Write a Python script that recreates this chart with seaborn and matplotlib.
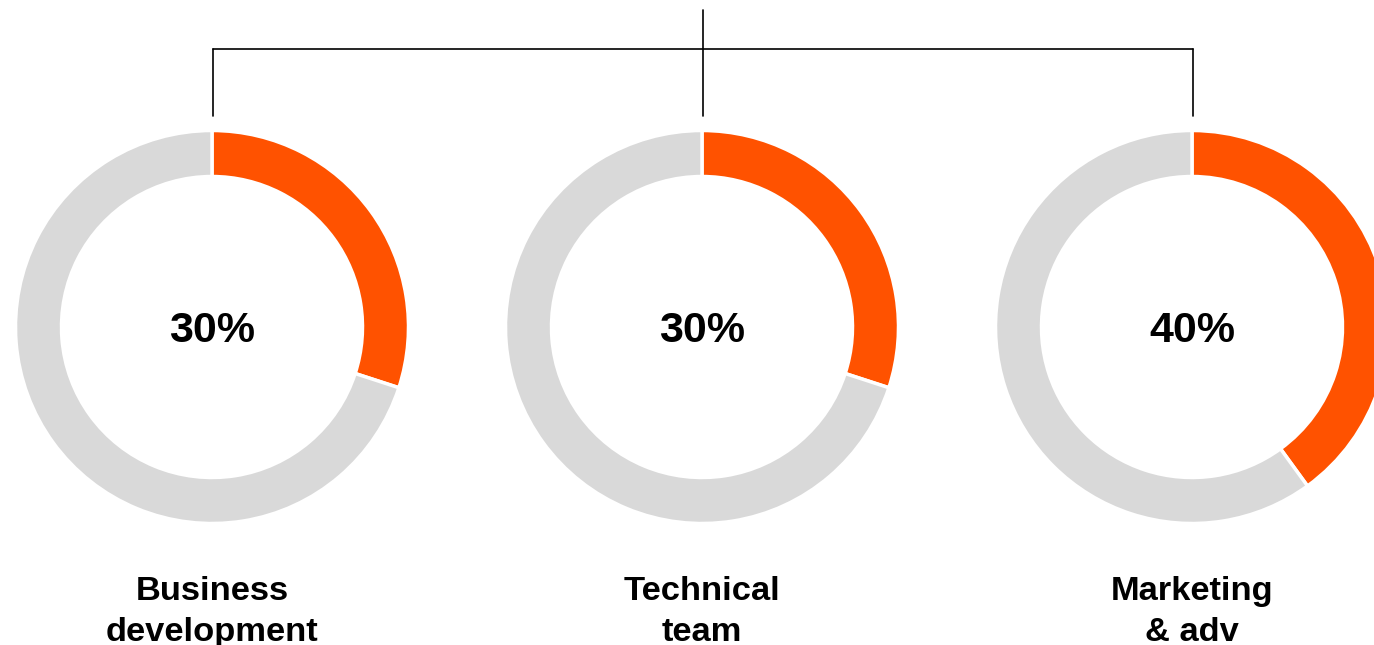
import matplotlib
matplotlib.use("Agg")
import matplotlib.pyplot as plt
import seaborn as sns

sns.set_style("white")
plt.rcParams['font.family'] = ['Liberation Sans', 'DejaVu Sans']

categories = ["Business\ndevelopment", "Technical\nteam", "Marketing\n& adv"]
shares = [30, 30, 40]
pct_labels = ["30%", "30%", "40%"]

orange = "#FF5200"
grey = "#D9D9D9"

W, H = 1374, 645
fig = plt.figure(figsize=(W / 100, H / 100), dpi=100)
ax = fig.add_axes([0, 0, 1, 1])

centers_x = [212, 702, 1192]
cy = H - 327
r_out = 196.5
width = 46

for cx, val, lab, cat in zip(centers_x, shares, pct_labels, categories):
    ax.pie([val, 100 - val], colors=[orange, grey], startangle=90, counterclock=False,
           center=(cx, cy), radius=r_out, frame=True,
           wedgeprops=dict(width=width, edgecolor="white", linewidth=2.5))
    ax.text(cx, cy - 4, lab, ha="center", va="center", fontsize=31, fontweight="bold", color="black")
    ax.text(cx, H - 576, cat, ha="center", va="top", fontsize=24.8, fontweight="bold",
            color="black", linespacing=1.42)

ax.set_xlim(0, W)
ax.set_ylim(0, H)
ax.set_aspect("equal")
ax.axis("off")

# connector lines
ax.plot([centers_x[1] + 1, centers_x[1] + 1], [H - 10, H - 116], color="black", lw=1.2)
ax.plot([centers_x[0] + 1, centers_x[2] + 1], [H - 49, H - 49], color="black", lw=1.2)
ax.plot([centers_x[0] + 1, centers_x[0] + 1], [H - 49, H - 116], color="black", lw=1.2)
ax.plot([centers_x[2] + 1, centers_x[2] + 1], [H - 49, H - 116], color="black", lw=1.2)

fig.savefig("out.png", dpi=100)
